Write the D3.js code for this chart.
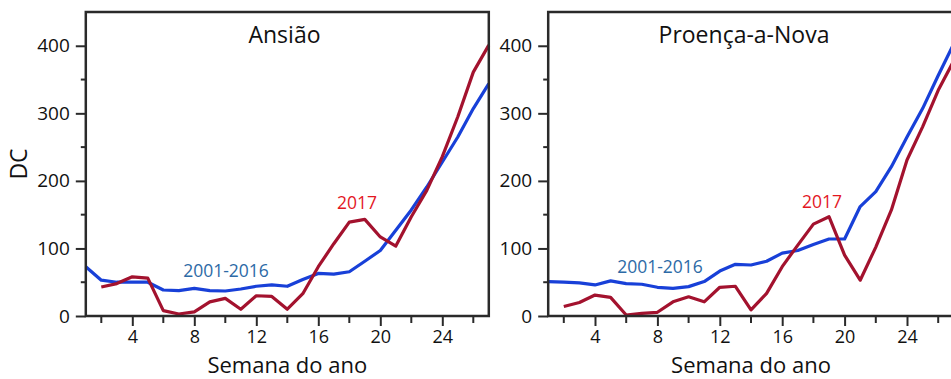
<!DOCTYPE html>
<html>
<head>
<meta charset="utf-8">
<script src="https://cdn.jsdelivr.net/npm/d3@7"></script>
<style>
  body { margin: 0; background: #fff; }
  svg { font-family: "Open Sans", sans-serif; display: block; }
</style>
</head>
<body>
<svg width="951" height="379"></svg>
<script>
// weeks of the year
var weeks = d3.range(1, 28)

// Ansião
var ansiaoMean = [73, 53, 50, 50, 50, 38.5, 37.5, 41, 37.5, 37, 40, 44, 46, 44, 54, 63, 62, 65.5, 81, 97, 127, 157, 191, 228, 265, 307, 344]
var ansiao2017 = [null, 43, 48, 58, 56, 8, 3, 6, 21, 26, 10, 30, 29, 10, 33, 73, 107, 139, 143, 117, 103.5, 147, 186, 236, 295, 361, 401]

// Proença-a-Nova
var proencaMean = [51, 50, 49, 46, 52, 48, 47, 42.5, 41, 43.5, 51, 66.5, 76.5, 75.5, 81, 93, 97, 106, 114, 114, 162, 184, 221, 265, 307, 356, 403]
var proenca2017 = [null, 14, 20, 31, 27.5, 1.5, 4, 5.5, 21, 28.5, 21, 42.5, 44, 9, 33.5, 73, 105, 136, 147, 90, 53, 102, 157, 231, 280, 334, 378]

var yTicks = [0, 100, 200, 300, 400]
var xTicks = [4, 8, 12, 16, 20, 24]

var blue = '#1840d8'
var red = '#a3122e'
var ink = '#2a2a2a'

var svg = d3.select('svg')

var drawPanel = (opt) => {
    var x = d3.scaleLinear().domain([1, 27]).range([opt.left, opt.right])
    var y = d3.scaleLinear().domain([0, 450]).range([316, 12])

    var g = svg.append('g')

    var line = d3.line()
        .defined(d => d[1] != null)
        .x(d => x(d[0]))
        .y(d => y(d[1]))

    g.append('path')
        .datum(weeks.map((w, i) => [w, opt.mean[i]]))
        .attr('d', line)
        .attr('fill', 'none')
        .attr('stroke', blue)
        .attr('stroke-width', 3.2)
        .attr('stroke-linejoin', 'round')

    g.append('path')
        .datum(weeks.map((w, i) => [w, opt.y2017[i]]))
        .attr('d', line)
        .attr('fill', 'none')
        .attr('stroke', red)
        .attr('stroke-width', 3.2)
        .attr('stroke-linejoin', 'round')

    // box
    g.append('rect')
        .attr('x', opt.left)
        .attr('y', 12)
        .attr('width', opt.right - opt.left)
        .attr('height', 316 - 12)
        .attr('fill', 'none')
        .attr('stroke', ink)
        .attr('stroke-width', 2.5)

    // minor ticks
    g.selectAll('.yminor')
        .data([50, 150, 250, 350])
        .join('line')
        .attr('x1', opt.left - 5).attr('x2', opt.left)
        .attr('y1', d => y(d)).attr('y2', d => y(d))
        .attr('stroke', ink).attr('stroke-width', 2)

    g.selectAll('.xminor')
        .data([2, 6, 10, 14, 18, 22, 26])
        .join('line')
        .attr('x1', d => x(d)).attr('x2', d => x(d))
        .attr('y1', 316).attr('y2', 323)
        .attr('stroke', ink).attr('stroke-width', 2)

    var yAxis = d3.axisLeft(y).tickValues(yTicks).tickSize(10).tickPadding(6)
    var ga = g.append('g')
        .attr('transform', 'translate(' + opt.left + ',0)')
        .call(yAxis)
    ga.select('.domain').remove()
    ga.selectAll('line').attr('stroke', ink).attr('stroke-width', 2)
    ga.selectAll('text').attr('font-size', 19).attr('fill', '#111').attr('font-family', '"Open Sans", sans-serif')

    var xAxis = d3.axisBottom(x).tickValues(xTicks).tickSize(10).tickPadding(4)
    var gx = g.append('g')
        .attr('transform', 'translate(0,316)')
        .call(xAxis)
    gx.select('.domain').remove()
    gx.selectAll('line').attr('stroke', ink).attr('stroke-width', 2)
    gx.selectAll('text').attr('font-size', 18).attr('fill', '#111').attr('font-family', '"Open Sans", sans-serif')

    // title
    g.append('text')
        .attr('x', opt.titleX).attr('y', 43)
        .attr('text-anchor', 'middle')
        .attr('font-size', 23)
        .attr('fill', '#111')
        .text(opt.title)

    g.append('text')
        .attr('x', opt.meanLabel[0]).attr('y', opt.meanLabel[1])
        .attr('text-anchor', 'middle')
        .attr('font-size', 17.5)
        .attr('fill', '#2d6aa6')
        .text('2001-2016')

    g.append('text')
        .attr('x', opt.redLabel[0]).attr('y', opt.redLabel[1])
        .attr('text-anchor', 'middle')
        .attr('font-size', 17.5)
        .attr('fill', '#e3171f')
        .text('2017')

    g.append('text')
        .attr('x', (opt.left + opt.right) / 2).attr('y', 372.5)
        .attr('text-anchor', 'middle')
        .attr('font-size', 22)
        .attr('fill', '#111')
        .text('Semana do ano')
}

drawPanel({
    left: 85.8, right: 488.8,
    mean: ansiaoMean, y2017: ansiao2017,
    title: 'Ansião', titleX: 284.5,
    meanLabel: [226, 277], redLabel: [357, 209]
})

drawPanel({
    left: 548.2, right: 953.8,
    mean: proencaMean, y2017: proenca2017,
    title: 'Proença-a-Nova', titleX: 744,
    meanLabel: [660, 273], redLabel: [822, 208]
})

svg.append('text')
    .attr('transform', 'translate(27,164) rotate(-90)')
    .attr('text-anchor', 'middle')
    .attr('font-size', 23)
    .attr('fill', '#111')
    .text('DC')
</script>
</body>
</html>
